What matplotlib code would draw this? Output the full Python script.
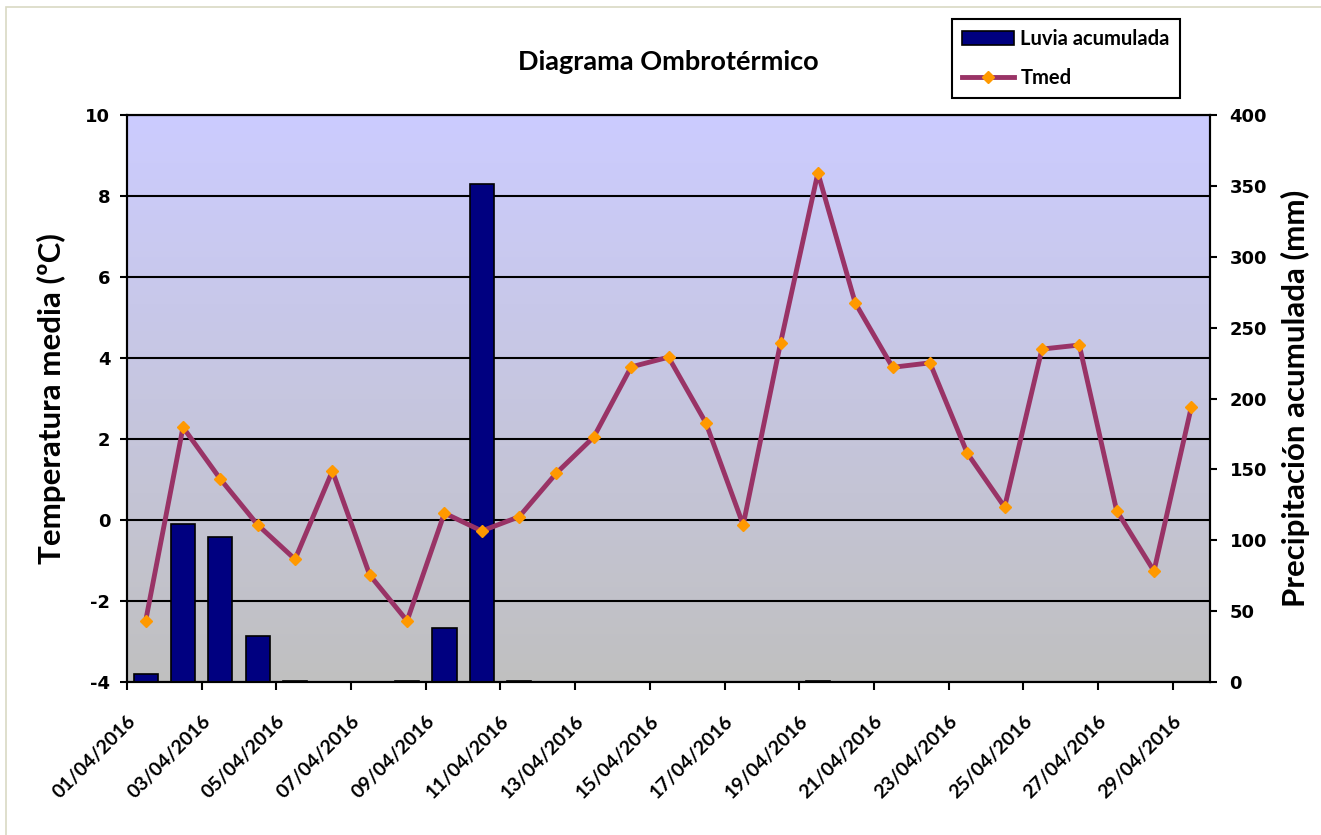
import numpy as np
import matplotlib
matplotlib.use("Agg")
import matplotlib.pyplot as plt
from matplotlib.patches import Rectangle, Patch
from matplotlib.lines import Line2D
from matplotlib.transforms import ScaledTranslation

plt.rcParams["axes.unicode_minus"] = False

# ---- data ----
dates = ["01/04/2016", "02/04/2016", "03/04/2016", "04/04/2016", "05/04/2016",
         "06/04/2016", "07/04/2016", "08/04/2016", "09/04/2016", "10/04/2016",
         "11/04/2016", "12/04/2016", "13/04/2016", "14/04/2016", "15/04/2016",
         "16/04/2016", "17/04/2016", "18/04/2016", "19/04/2016", "20/04/2016",
         "21/04/2016", "22/04/2016", "23/04/2016", "24/04/2016", "25/04/2016",
         "26/04/2016", "27/04/2016", "28/04/2016", "29/04/2016"]
tick_labels = ["01/04/2016", "03/04/2016", "05/04/2016", "07/04/2016", "09/04/2016",
               "11/04/2016", "13/04/2016", "15/04/2016", "17/04/2016", "19/04/2016",
               "21/04/2016", "23/04/2016", "25/04/2016", "27/04/2016", "29/04/2016"]
tmed = [-2.49, 2.29, 1.01, -0.12, -0.97, 1.21, -1.36, -2.49, 0.17, -0.27,
        0.08, 1.16, 2.05, 3.78, 4.02, 2.40, -0.12, 4.37, 8.57, 5.36,
        3.77, 3.88, 1.65, 0.32, 4.22, 4.32, 0.23, -1.26, 2.79]
lluvia = [5.4, 111.2, 102.5, 32.2, 1.0, 0.0, 0.0, 1.0, 37.9, 351.0,
          1.0, 0.0, 0.0, 0.0, 0.0, 0.0, 0.0, 0.0, 1.0, 0.0,
          0.0, 0.0, 0.0, 0.0, 0.0, 0.0, 0.0, 0.0, 0.0]
temp_ticks = [-4, -2, 0, 2, 4, 6, 8, 10]
rain_ticks = [0, 50, 100, 150, 200, 250, 300, 350, 400]

W, H = 1321, 835
fig = plt.figure(figsize=(W / 100, H / 100), dpi=100)
fig.patch.set_facecolor("white")

# outer frame
fig.add_artist(Rectangle((6 / W, -0.01), 1.1, 1 - 7 / H + 0.01, transform=fig.transFigure,
                         fill=False, edgecolor="#D9D9C4", linewidth=1.2))

L, R, T, B = 127, 1210, 115, 682
pos = [L / W, 1 - B / H, (R - L) / W, (B - T) / H]

x = np.arange(len(dates)) + 0.5

# base axis: temperature (left), background & grid
ax_t = fig.add_axes(pos)
ax_t.set_xlim(0, len(dates))
ax_t.set_ylim(temp_ticks[0], temp_ticks[-1])
grad = np.linspace(0, 1, 256).reshape(-1, 1)
top_c = np.array([204, 204, 255]) / 255
bot_c = np.array([192, 192, 192]) / 255
img = bot_c[None, None, :] * (1 - grad[:, :, None]) + top_c[None, None, :] * grad[:, :, None]
ax_t.imshow(img, extent=[0, len(dates), temp_ticks[0], temp_ticks[-1]], origin="lower",
            aspect="auto", zorder=0, interpolation="bilinear")
ax_t.set_yticks(temp_ticks)
ax_t.yaxis.grid(True, color="black", linewidth=1.5, zorder=1)
ax_t.set_axisbelow(True)
ax_t.set_xticks(np.arange(0, len(dates), 2))
ax_t.set_xticklabels(tick_labels, rotation=45, ha="right", va="top", rotation_mode="anchor",
                     fontfamily="Lato", fontweight="bold", fontsize=14)
shift = ScaledTranslation(-2 / 100, 0, fig.dpi_scale_trans)
for lab in ax_t.get_xticklabels():
    lab.set_transform(lab.get_transform() + shift)
ax_t.tick_params(axis="x", length=6, width=1.5, pad=16, direction="out")
ax_t.tick_params(axis="y", length=5, width=1.5, pad=7, direction="out",
                 labelsize=13)
for lab in ax_t.get_yticklabels():
    lab.set_fontweight("bold")
    lab.set_fontfamily("DejaVu Sans")
for s in ax_t.spines.values():
    s.set_linewidth(1.5)
    s.set_color("black")
ax_t.set_ylabel("Temperatura media (ºC)", fontfamily="Lato", fontweight="bold",
                fontsize=22.5, labelpad=14)

# rain axis (right) with bars
ax_r = ax_t.twinx()
ax_r.set_ylim(rain_ticks[0], rain_ticks[-1])
ax_r.set_yticks(rain_ticks)
ax_r.bar(x, lluvia, width=0.65, color="#000080", edgecolor="black", linewidth=1.2, zorder=2)
ax_r.tick_params(axis="y", length=5, width=1.5, pad=9, direction="out", labelsize=13)
for lab in ax_r.get_yticklabels():
    lab.set_fontweight("bold")
    lab.set_fontfamily("DejaVu Sans")
for s in ax_r.spines.values():
    s.set_linewidth(1.5)
ax_r.set_ylabel("Precipitación acumulada (mm)", fontfamily="Lato", fontweight="bold",
                fontsize=22.5, labelpad=10)

# line axis on top
ax_l = ax_t.twinx()
ax_l.set_ylim(temp_ticks[0], temp_ticks[-1])
ax_l.set_yticks([])
ax_l.plot(x, tmed, color="#993366", linewidth=3.5, marker="D", markersize=6,
          markerfacecolor="#FF9900", markeredgecolor="#FF9900", zorder=3)
for s in ax_l.spines.values():
    s.set_visible(False)

# title
fig.text(668 / W, 1 - 62 / H, "Diagrama Ombrotérmico", ha="center", va="center",
         fontfamily="Lato", fontweight="bold", fontsize=19.5)

# legend
handles = [Patch(facecolor="#000080", edgecolor="black", linewidth=1.2),
           Line2D([], [], color="#993366", linewidth=3.5, marker="D", markersize=6,
                  markerfacecolor="#FF9900", markeredgecolor="#FF9900")]
leg = fig.legend(handles, ["Luvia acumulada", "Tmed"], loc="upper left",
                 bbox_to_anchor=(952 / W, 1 - 19 / H), borderaxespad=0,
                 frameon=True, fancybox=False,
                 edgecolor="black", framealpha=1, borderpad=0.5, labelspacing=0.95,
                 handlelength=2.6, handletextpad=0.3,
                 prop={"family": "Lato", "weight": "bold", "size": 14.5})
leg.get_frame().set_linewidth(1.5)

fig.savefig("out.png", dpi=100)
